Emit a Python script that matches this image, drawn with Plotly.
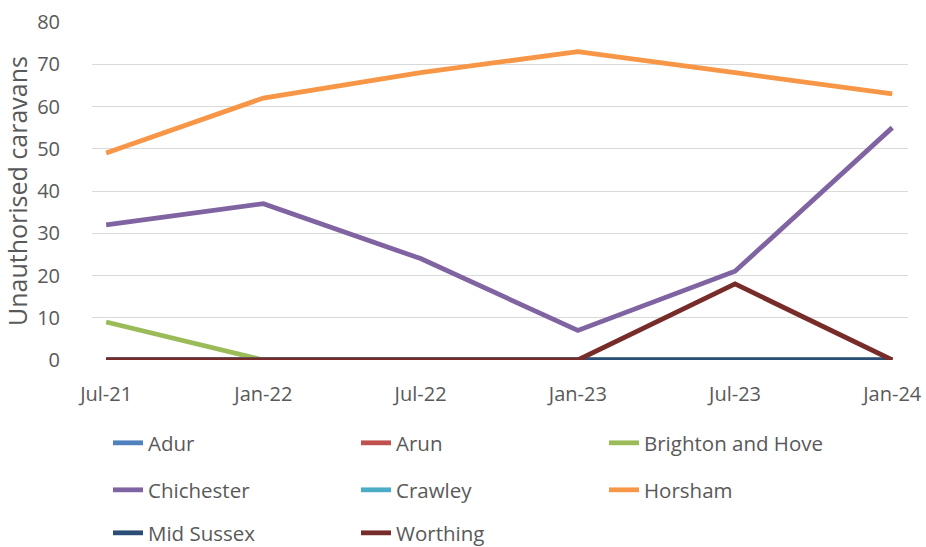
import plotly.graph_objects as go

dates = ["Jul-21", "Jan-22", "Jul-22", "Jan-23", "Jul-23", "Jan-24"]
adur = [0, 0, 0, 0, 0, 0]
arun = [0, 0, 0, 0, 0, 0]
brighton = [9, 0, 0, 0, 0, 0]
chichester = [32, 37, 24, 7, 21, 55]
crawley = [0, 0, 0, 0, 0, 0]
horsham = [49, 62, 68, 73, 68, 63]
mid_sussex = [0, 0, 0, 0, 0, 0]
worthing = [0, 0, 0, 0, 18, 0]

series = [
    ("Adur", adur, "#4F81BD", "legend"),
    ("Arun", arun, "#C0504D", "legend"),
    ("Brighton and Hove", brighton, "#9BBB59", "legend"),
    ("Chichester", chichester, "#8064A2", "legend2"),
    ("Crawley", crawley, "#4BACC6", "legend2"),
    ("Horsham", horsham, "#F79646", "legend2"),
    ("Mid Sussex", mid_sussex, "#2C4D75", "legend3"),
    ("Worthing", worthing, "#772C2A", "legend3"),
]

FONT = "Open Sans"
GREY = "#595959"
W, HGT = 926, 547

fig = go.Figure()
for name, vals, col, lg in series:
    fig.add_trace(go.Scatter(
        x=list(range(len(dates))), y=vals, name=name, mode="lines",
        line=dict(color=col, width=4.8), legend=lg,
    ))

plot_top, plot_bottom = 22, 360

def cy(pix):
    return 1 - pix / HGT

leg_common = dict(orientation="h", xref="container", yref="container",
                  x=108 / W, xanchor="left", yanchor="middle",
                  entrywidth=203, entrywidthmode="pixels",
                  font=dict(family=FONT, size=20.5, color=GREY),
                  bgcolor="rgba(0,0,0,0)", traceorder="normal")

fig.update_layout(
    width=W, height=HGT,
    margin=dict(l=92, r=18, t=plot_top, b=HGT - plot_bottom, autoexpand=False),
    paper_bgcolor="white", plot_bgcolor="white",
    font=dict(family=FONT, color=GREY, size=20),
    legend=dict(y=cy(443), **leg_common),
    legend2=dict(y=cy(490), **leg_common),
    legend3=dict(y=cy(533), **leg_common),
    xaxis=dict(
        tickmode="array", tickvals=list(range(len(dates))), ticktext=dates,
        range=[-0.09, 5.1], showgrid=False, zeroline=False, showline=False,
        ticks="", ticklabelstandoff=20,
        tickfont=dict(family=FONT, size=20, color=GREY),
    ),
    yaxis=dict(
        range=[0, 80], dtick=10, showgrid=True, gridcolor="#D9D9D9", gridwidth=1,
        zeroline=False, showline=False, ticks="", ticklabelstandoff=31,
        tickfont=dict(family=FONT, size=20, color=GREY),
        title=dict(text="Unauthorised caravans", standoff=2,
                   font=dict(family=FONT, size=25, color=GREY)),
    ),
    showlegend=True,
)

fig.write_html("out.html", config={"displayModeBar": False},
               post_script="document.body.style.margin='0';")
